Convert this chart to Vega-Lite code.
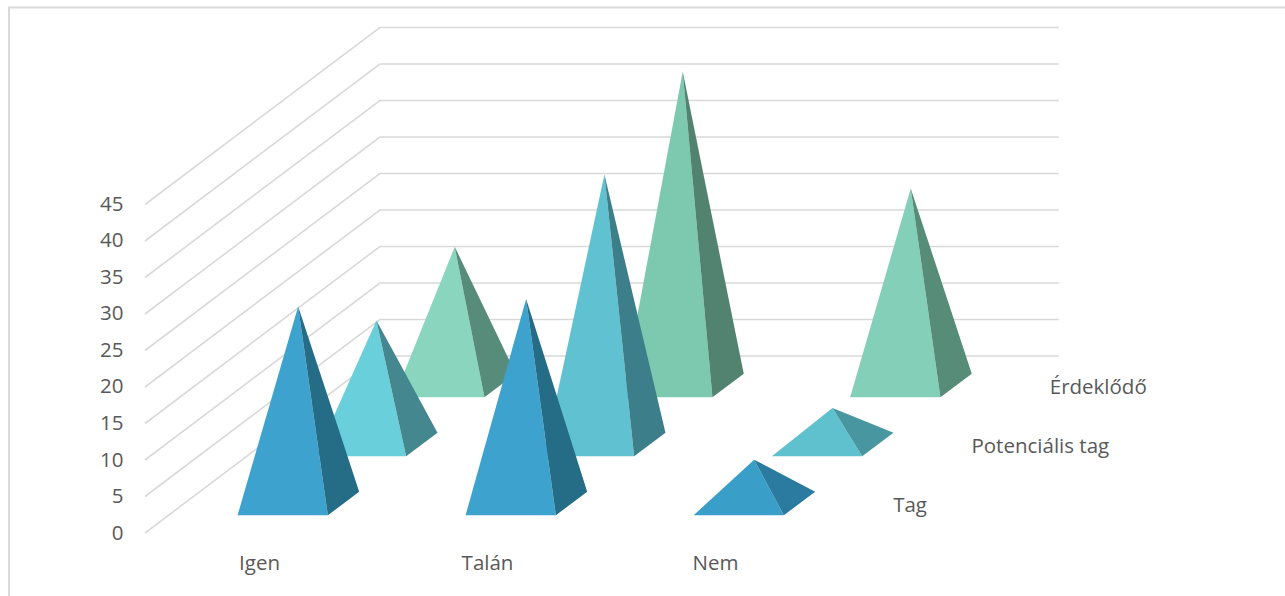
{
"$schema":"https://vega.github.io/schema/vega-lite/v6.json",
"autosize":{"type":"none"},
"padding":{"left":9,"top":7.5,"right":0,"bottom":0},
"width":1277,
"height":590.5,
"background":"white",
"config":{"view":{"stroke":"#d9d9d9","strokeWidth":2}},
"datasets":{
"pyramids":[
{"category":"Igen","series":"Érdeklődő","value":19},
{"category":"Talán","series":"Érdeklődő","value":43},
{"category":"Nem","series":"Érdeklődő","value":27},
{"category":"Igen","series":"Potenciális tag","value":17},
{"category":"Talán","series":"Potenciális tag","value":37},
{"category":"Nem","series":"Potenciális tag","value":5},
{"category":"Igen","series":"Tag","value":27},
{"category":"Talán","series":"Tag","value":28},
{"category":"Nem","series":"Tag","value":6}
],
"grid":[{"value":0},{"value":5},{"value":10},{"value":15},{"value":20},{"value":25},{"value":30},{"value":35},{"value":40},{"value":45}],
"seriesNames":[{"series":"Tag"},{"series":"Potenciális tag"},{"series":"Érdeklődő"}]
},
"encoding":{
"x":{"field":"px","type":"quantitative","scale":{"domain":[-0.5965,5.0044],"nice":false,"zero":false},
"axis":{"orient":"bottom","offset":-45,"values":[0.5,1.5,2.5],"labelExpr":"['Igen','Talán','Nem'][floor(datum.value)]","title":null,"domain":false,"ticks":false,"grid":false,"labelPadding":0,"labelFont":"Open Sans","labelFontSize":20.5,"labelColor":"#595959"}},
"y":{"field":"py","type":"quantitative","scale":{"domain":[-8.904,71.986],"nice":false,"zero":false},
"axis":{"orient":"left","offset":-114,"values":[0,5,10,15,20,25,30,35,40,45],"title":null,"domain":false,"ticks":false,"grid":false,"labelPadding":0,"labelFont":"Open Sans","labelFontSize":20.5,"labelColor":"#595959"}}
},
"layer":[
{
"data":{"name":"grid"},
"transform":[
{"calculate":"[0,1,2]","as":"i"},
{"flatten":["i"]},
{"calculate":"[0,0.0,2.978][datum.i]+0.3434*[0,3,3][datum.i]","as":"px"},
{"calculate":"datum.value+8.082*[0,3,3][datum.i]","as":"py"}
],
"mark":{"type":"line","color":"#d9d9d9","strokeWidth":1.6,"interpolate":"linear"},
"encoding":{"detail":{"field":"value","type":"quantitative"},"order":{"field":"i","type":"quantitative"}}
},
{
"data":{"name":"pyramids"},
"transform":[
{"calculate":"indexof(['Igen','Talán','Nem'],datum.category)","as":"c"},
{"calculate":"indexof(['Tag','Potenciális tag','Érdeklődő'],datum.series)","as":"d"},
{"calculate":"['front','side']","as":"face"},
{"flatten":["face"]},
{"calculate":"[0,1,2]","as":"i"},
{"flatten":["i"]},
{"calculate":"datum.c+0.303+0.3434*(datum.d+0.3)","as":"flx"},
{"calculate":"datum.c+0.699+0.3434*(datum.d+0.3)","as":"frx"},
{"calculate":"datum.c+0.5+0.3434*(datum.d+0.5)","as":"ax"},
{"calculate":"datum.c+0.699+0.3434*(datum.d+0.7)","as":"brx"},
{"calculate":"8.082*(datum.d+0.3)","as":"by"},
{"calculate":"datum.value+8.082*(datum.d+0.5)","as":"ay"},
{"calculate":"8.082*(datum.d+0.7)","as":"bry"},
{"calculate":"datum.face=='front'?[datum.flx,datum.ax,datum.frx][datum.i]:[datum.ax,datum.frx,datum.brx][datum.i]","as":"px"},
{"calculate":"datum.face=='front'?[datum.by,datum.ay,datum.by][datum.i]:[datum.ay,datum.ay+(datum.bry-datum.ay)*(datum.frx-datum.ax)/(datum.brx-datum.ax),datum.bry][datum.i]","as":"py"},
{"calculate":"datum.face=='front'?datum.by:[datum.ay,datum.by,datum.bry][datum.i]","as":"py2"},
{"calculate":"datum.category+'|'+datum.series+'|'+datum.face","as":"key"}
],
"mark":{"type":"area","orient":"vertical","interpolate":"linear"},
"encoding":{
"y2":{"field":"py2"},
"color":{"field":"key","type":"nominal","legend":null,"scale":{
"domain":["Igen|Tag|front","Igen|Tag|side","Talán|Tag|front","Talán|Tag|side","Nem|Tag|front","Nem|Tag|side","Igen|Potenciális tag|front","Igen|Potenciális tag|side","Talán|Potenciális tag|front","Talán|Potenciális tag|side","Nem|Potenciális tag|front","Nem|Potenciális tag|side","Igen|Érdeklődő|front","Igen|Érdeklődő|side","Talán|Érdeklődő|front","Talán|Érdeklődő|side","Nem|Érdeklődő|front","Nem|Érdeklődő|side"],
"range":["#3DA2CE","#256C87","#3DA2CE","#256C87","#399FC9","#2B7BA0","#68CFDB","#44878F","#60C1D0","#3C7F8A","#5FC1CE","#4897A0","#89D5BD","#588C7A","#7CC9B0","#528371","#84CFB8","#578C79"]}}
}
},
{
"data":{"name":"seriesNames"},
"transform":[
{"calculate":"indexof(['Tag','Potenciális tag','Érdeklődő'],datum.series)","as":"d"},
{"calculate":"3+0.3434*(datum.d+0.5)","as":"px"},
{"calculate":"8.082*(datum.d+0.5)","as":"py"}
],
"mark":{"type":"text","align":"left","baseline":"middle","dx":25,"dy":2,"font":"Open Sans","fontSize":20.5,"color":"#595959"},
"encoding":{"text":{"field":"series","type":"nominal"}}
}
]
}
